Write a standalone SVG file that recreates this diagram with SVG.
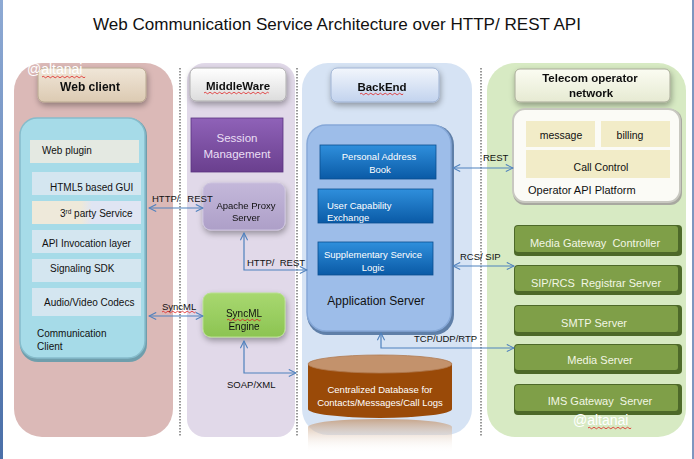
<svg xmlns="http://www.w3.org/2000/svg" width="694" height="459" viewBox="0 0 694 459">
<defs>
<style>
text{font-family:"Liberation Sans",Arial,sans-serif;font-size:10px;fill:#111}
.b{font-weight:bold;font-size:11px}
.c{text-anchor:middle}
.w{fill:#ffffff}
.g{fill:#f2f6e4;font-size:11px;text-anchor:middle}
.lbl{font-size:9.5px}
.conn{fill:none;stroke:#4f81bd;stroke-width:1.2}
.dot{stroke:#333;stroke-width:1;stroke-dasharray:1.5 1.5}
.sq{fill:none;stroke:#e02020;stroke-width:0.8}
</style>
<marker id="ah" viewBox="0 0 10 10" refX="9" refY="5" markerWidth="9" markerHeight="9" markerUnits="userSpaceOnUse" orient="auto-start-reverse">
<path d="M1,1 L9,5 L1,9" fill="none" stroke="#4f81bd" stroke-width="1.2"/>
</marker>
<filter id="sh" x="-20%" y="-20%" width="150%" height="160%">
<feGaussianBlur in="SourceAlpha" stdDeviation="3"/>
<feOffset dx="1" dy="3"/>
<feComponentTransfer><feFuncA type="linear" slope="0.35"/></feComponentTransfer>
<feMerge><feMergeNode/><feMergeNode in="SourceGraphic"/></feMerge>
</filter>
<linearGradient id="hdrWeb" x1="0" y1="0" x2="0" y2="1"><stop offset="0" stop-color="#f0e6d8"/><stop offset="1" stop-color="#dccab2"/></linearGradient>
<linearGradient id="hdrMid" x1="0" y1="0" x2="0" y2="1"><stop offset="0" stop-color="#ffffff"/><stop offset="1" stop-color="#dcdcdc"/></linearGradient>
<linearGradient id="hdrBack" x1="0" y1="0" x2="0" y2="1"><stop offset="0" stop-color="#f2f6fc"/><stop offset="1" stop-color="#c2d3ee"/></linearGradient>
<linearGradient id="hdrTel" x1="0" y1="0" x2="0" y2="1"><stop offset="0" stop-color="#fbfcf2"/><stop offset="1" stop-color="#e6ead2"/></linearGradient>
<linearGradient id="sess" x1="0" y1="0" x2="0" y2="1"><stop offset="0" stop-color="#8f62b8"/><stop offset="1" stop-color="#6a3f8e"/></linearGradient>
<linearGradient id="apache" x1="0" y1="0" x2="0" y2="1"><stop offset="0" stop-color="#c4b8da"/><stop offset="1" stop-color="#ad9fc8"/></linearGradient>
<linearGradient id="sync" x1="0" y1="0" x2="0" y2="1"><stop offset="0" stop-color="#a8d870"/><stop offset="1" stop-color="#8cc452"/></linearGradient>
<linearGradient id="blueBox" x1="0" y1="0" x2="0" y2="1"><stop offset="0" stop-color="#2f8fdc"/><stop offset="1" stop-color="#0a5aa6"/></linearGradient>
<linearGradient id="third" x1="0" y1="0" x2="1" y2="0"><stop offset="0.45" stop-color="#eee9da"/><stop offset="0.55" stop-color="#dfe5f3"/></linearGradient>
<linearGradient id="refl" x1="0" y1="0" x2="0" y2="1"><stop offset="0" stop-color="#c49a78"/><stop offset="1" stop-color="#ffffff" stop-opacity="0"/></linearGradient>
<linearGradient id="leftBar" x1="0" y1="0" x2="0" y2="1"><stop offset="0" stop-color="#8eaad4"/><stop offset="1" stop-color="#4a6fa8"/></linearGradient>
</defs>

<rect x="0" y="0" width="694" height="459" fill="#ffffff"/>
<rect x="0" y="0" width="3" height="459" fill="url(#leftBar)"/>
<rect x="692" y="0" width="2" height="459" fill="#7e97bf"/>

<text x="337" y="30" class="c" style="font-size:16.5px" textLength="488" lengthAdjust="spacingAndGlyphs">Web Communication Service Architecture over HTTP/ REST API</text>

<!-- panels -->
<g id="panel-webclient"><rect x="14" y="63" width="159" height="374" rx="28" fill="#dbb9b7"/></g>
<g id="panel-middleware"><rect x="187" y="63" width="108" height="374" rx="18" fill="#e1d9e9"/></g>
<g id="panel-backend"><rect x="302" y="63" width="170" height="372" rx="26" fill="#d6e3f4"/></g>
<g id="panel-telecom"><rect x="487" y="63" width="199" height="374" rx="28" fill="#d7eac3"/></g>

<g id="separators">
<line x1="180" y1="68" x2="180" y2="437" class="dot"/>
<line x1="297" y1="68" x2="297" y2="437" class="dot"/>
<line x1="481" y1="68" x2="481" y2="437" class="dot"/>
</g>

<!-- Web client -->
<g id="hdr-webclient" filter="url(#sh)"><rect x="38" y="68" width="108" height="34" rx="6" fill="url(#hdrWeb)" stroke="#b8a890" stroke-width="1"/>
<text x="90" y="91" class="b c" style="font-size:12px">Web client</text></g>

<g id="comm-client">
<rect x="20" y="118" width="127" height="244" rx="18" fill="#6f9eac"/>
<rect x="20" y="118" width="125" height="240" rx="17" fill="#a6dbe8" stroke="#86bccb" stroke-width="1.5"/>
<rect x="30" y="140" width="109" height="23" fill="#e4e9e2"/>
<text x="42" y="154">Web plugin</text>
<rect x="32" y="172" width="109" height="23" fill="#d4e6f0"/>
<text x="50" y="191">HTML5 based GUI</text>
<rect x="32" y="201" width="109" height="23" fill="url(#third)"/>
<text x="60" y="217">3<tspan dy="-3" style="font-size:6.5px">rd</tspan><tspan dy="3"> party Service</tspan></text>
<rect x="32" y="230" width="109" height="23" fill="#d4e6f0"/>
<text x="42" y="247">API Invocation layer</text>
<rect x="32" y="259" width="109" height="23" fill="#d4e6f0"/>
<text x="50" y="272">Signaling SDK</text>
<rect x="32" y="288" width="109" height="28" fill="#d4e6f0"/>
<text x="44" y="306">Audio/Video Codecs</text>
<text x="37" y="337">Communication</text>
<text x="37" y="350">Client</text>
</g>

<!-- Middleware -->
<g id="hdr-middleware" filter="url(#sh)"><rect x="190" y="68" width="96" height="33" rx="6" fill="url(#hdrMid)" stroke="#b0b0b0" stroke-width="1"/>
<text x="238" y="90" class="b c" style="font-size:11.5px">MiddleWare</text>
<path d="M204,93 q1.2,-1.5 2.4,0 t2.4,0 t2.4,0 t2.4,0 t2.4,0 t2.4,0 t2.4,0 t2.4,0 t2.4,0 t2.4,0 t2.4,0 t2.4,0 t2.4,0 t2.4,0 t2.4,0 t2.4,0 t2.4,0 t2.4,0 t2.4,0 t2.4,0 t2.4,0 t2.4,0 t2.4,0 t2.4,0 t2.4,0 t2.4,0 t2.4,0" class="sq"/></g>

<g id="session-mgmt"><rect x="191" y="118" width="92" height="54" fill="url(#sess)" stroke="#5a3480" stroke-width="0.8"/>
<text x="237" y="142" class="c" style="fill:#eadff5;font-size:11.5px">Session</text>
<text x="237" y="158" class="c" style="fill:#eadff5;font-size:11.5px">Management</text></g>

<g id="apache-proxy" filter="url(#sh)"><rect x="203" y="183" width="82" height="47" rx="8" fill="url(#apache)" stroke="#cbc2de" stroke-width="1"/>
<text x="246" y="209" class="c" style="font-size:9.5px">Apache Proxy</text>
<text x="246" y="221" class="c" style="font-size:9.5px">Server</text></g>

<g id="syncml-engine" filter="url(#sh)"><rect x="203" y="293" width="82" height="44" rx="8" fill="url(#sync)" stroke="#b8e090" stroke-width="1"/>
<text x="244" y="317" class="c" style="font-size:10px">SyncML</text>
<path d="M227,320 q1.2,-1.5 2.4,0 t2.4,0 t2.4,0 t2.4,0 t2.4,0 t2.4,0 t2.4,0 t2.4,0 t2.4,0 t2.4,0 t2.4,0 t2.4,0 t2.4,0 t2.4,0" class="sq"/>
<text x="244" y="330" class="c" style="font-size:10px">Engine</text></g>

<!-- BackEnd -->
<g id="hdr-backend" filter="url(#sh)"><rect x="331" y="68" width="108" height="34" rx="6" fill="url(#hdrBack)" stroke="#9fb3d3" stroke-width="1"/>
<text x="382" y="91" class="b c" style="font-size:11.5px">BackEnd</text>
<path d="M360,94 q1.2,-1.5 2.4,0 t2.4,0 t2.4,0 t2.4,0 t2.4,0 t2.4,0 t2.4,0 t2.4,0 t2.4,0 t2.4,0 t2.4,0 t2.4,0 t2.4,0 t2.4,0 t2.4,0 t2.4,0 t2.4,0 t2.4,0" class="sq"/></g>

<g id="app-server">
<rect x="307" y="125" width="147" height="210" rx="20" fill="#5f7fa8"/>
<rect x="307" y="125" width="144" height="206" rx="19" fill="#9dbde9" stroke="#86a8d8" stroke-width="1.5"/>
<rect x="320" y="145" width="116" height="34" fill="url(#blueBox)" stroke="#0a4f90" stroke-width="0.8"/>
<text x="379" y="160" class="c w" style="font-size:9.5px">Personal Address</text>
<text x="380" y="173" class="c w" style="font-size:9.5px">Book</text>
<rect x="318" y="189" width="115" height="34" fill="url(#blueBox)" stroke="#0a4f90" stroke-width="0.8"/>
<text x="327" y="209" class="w" style="font-size:9.5px">User Capability</text>
<text x="327" y="221" class="w" style="font-size:9.5px">Exchange</text>
<rect x="318" y="242" width="115" height="33" fill="url(#blueBox)" stroke="#0a4f90" stroke-width="0.8"/>
<text x="373" y="258" class="c w" style="font-size:9.5px">Supplementary Service</text>
<text x="373" y="271" class="c w" style="font-size:9.5px">Logic</text>
<text x="376" y="305" class="c" style="font-size:12px">Application Server</text>
</g>

<g id="database">
<path d="M308,433 A72,8 0 0 1 452,433 L452,459 L308,459 Z" fill="url(#refl)" opacity="0.85" transform="translate(0,-6)"/>
<path d="M308,364 L308,409 A72,9 0 0 0 452,409 L452,364 Z" fill="#9a4a08"/>
<ellipse cx="380" cy="364" rx="72" ry="9" fill="#c3926c" stroke="#b07a50" stroke-width="0.8"/>
<text x="380" y="393" class="c w" style="font-size:9.5px">Centralized Database for</text>
<text x="380" y="406" class="c w" style="font-size:9.5px">Contacts/Messages/Call Logs</text>
</g>

<!-- Telecom -->
<g id="hdr-telecom" filter="url(#sh)"><rect x="515" y="69" width="155" height="33" rx="5" fill="url(#hdrTel)" stroke="#a8aa98" stroke-width="1"/>
<text x="590" y="82" class="b c" style="font-size:11.5px">Telecom operator</text>
<text x="591" y="97" class="b c" style="font-size:11.5px">network</text></g>

<g id="operator-api">
<rect x="513" y="109" width="169" height="96" rx="12" fill="#a8a8a0"/>
<rect x="513" y="109" width="167" height="93" rx="12" fill="#fbfbf6" stroke="#c8c8c0" stroke-width="2"/>
<rect x="526" y="121" width="69" height="26" fill="#f2ecc8"/>
<text x="561" y="139" class="c" style="font-size:10.5px">message</text>
<rect x="601" y="121" width="69" height="26" fill="#f2ecc8"/>
<text x="630" y="139" class="c" style="font-size:10.5px">billing</text>
<rect x="526" y="150" width="144" height="28" fill="#f2ecc8"/>
<text x="601" y="171" class="c" style="font-size:10.5px">Call Control</text>
<text x="528" y="194" style="font-size:11px">Operator API Platform</text>
</g>

<g id="mgc"><rect x="514" y="225" width="168" height="31" rx="4" fill="#4d6929"/><rect x="515" y="226" width="163" height="26" rx="3" fill="#7f9f48"/>
<text x="595" y="247" class="g" xml:space="preserve">Media Gateway  Controller</text></g>
<g id="sip-registrar"><rect x="514" y="265" width="168" height="30" rx="4" fill="#4d6929"/><rect x="515" y="266" width="163" height="25" rx="3" fill="#7f9f48"/>
<text x="596" y="287" class="g" xml:space="preserve">SIP/RCS  Registrar Server</text></g>
<g id="smtp"><rect x="514" y="305" width="168" height="31" rx="4" fill="#4d6929"/><rect x="515" y="306" width="163" height="26" rx="3" fill="#7f9f48"/>
<text x="594" y="327" class="g">SMTP Server</text></g>
<g id="media-server"><rect x="514" y="344" width="168" height="30" rx="4" fill="#4d6929"/><rect x="515" y="345" width="163" height="25" rx="3" fill="#7f9f48"/>
<text x="600" y="364" class="g">Media Server</text></g>
<g id="ims-gateway"><rect x="514" y="384" width="168" height="31" rx="4" fill="#4d6929"/><rect x="515" y="385" width="163" height="26" rx="3" fill="#7f9f48"/>
<text x="600" y="405" class="g" xml:space="preserve">IMS Gateway  Server</text></g>

<!-- connectors -->
<g id="connectors">
<line x1="149" y1="208" x2="203" y2="208" class="conn" marker-start="url(#ah)" marker-end="url(#ah)"/>
<text x="152" y="202" class="lbl" xml:space="preserve">HTTP/   REST</text>
<polyline points="244,233 244,270 307,270" class="conn" marker-start="url(#ah)" marker-end="url(#ah)"/>
<text x="247" y="266" class="lbl" xml:space="preserve">HTTP/  REST</text>
<line x1="149" y1="316" x2="203" y2="316" class="conn" marker-start="url(#ah)" marker-end="url(#ah)"/>
<text x="162" y="310" class="lbl">SyncML</text>
<path d="M162,312 q1.2,-1.5 2.4,0 t2.4,0 t2.4,0 t2.4,0 t2.4,0 t2.4,0 t2.4,0 t2.4,0 t2.4,0 t2.4,0 t2.4,0 t2.4,0 t2.4,0 t2.4,0" class="sq"/>
<polyline points="244,341 244,373 296,373" class="conn" marker-start="url(#ah)" marker-end="url(#ah)"/>
<text x="227" y="388" class="lbl">SOAP/XML</text>
<line x1="453" y1="168" x2="513" y2="168" class="conn" marker-start="url(#ah)" marker-end="url(#ah)"/>
<text x="483" y="161" class="lbl">REST</text>
<line x1="453" y1="266" x2="514" y2="266" class="conn" marker-start="url(#ah)" marker-end="url(#ah)"/>
<text x="460" y="260" class="lbl">RCS/ SIP</text>
<polyline points="381,333 381,348 514,348" class="conn" marker-start="url(#ah)" marker-end="url(#ah)"/>
<text x="414" y="342" class="lbl">TCP/UDP/RTP</text>
</g>

<g id="watermarks">
<text x="27" y="74" class="w" style="font-size:14px">@altanai</text>
<path d="M42,77 q1.2,-1.5 2.4,0 t2.4,0 t2.4,0 t2.4,0 t2.4,0 t2.4,0 t2.4,0 t2.4,0 t2.4,0 t2.4,0 t2.4,0 t2.4,0 t2.4,0 t2.4,0 t2.4,0 t2.4,0 t2.4,0 t2.4,0" class="sq"/>
<text x="573" y="425" class="w" style="font-size:14px">@altanai</text>
<path d="M588,428 q1.2,-1.5 2.4,0 t2.4,0 t2.4,0 t2.4,0 t2.4,0 t2.4,0 t2.4,0 t2.4,0 t2.4,0 t2.4,0 t2.4,0 t2.4,0 t2.4,0 t2.4,0 t2.4,0 t2.4,0 t2.4,0 t2.4,0" class="sq"/>
</g>
</svg>
